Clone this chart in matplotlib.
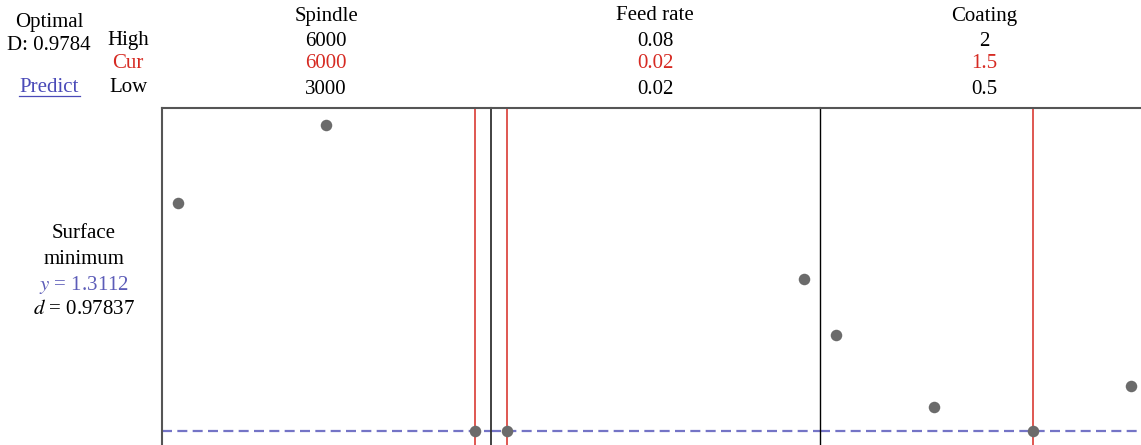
import numpy as np
import matplotlib.pyplot as plt

plt.rcParams['font.family'] = ['Liberation Serif', 'DejaVu Serif']
plt.rcParams['mathtext.fontset'] = 'stix'

# factor settings
factorNames = ["Spindle", "Feed rate", "Coating"]
highLabels = ["6000", "0.08", "2"]
curLabels = ["6000", "0.02", "1.5"]
lowLabels = ["3000", "0.02", "0.5"]
lowValues = [3000, 0.02, 0.5]
highValues = [6000, 0.08, 2.0]
curValues = [6000, 0.02, 1.5]

# predicted surface response at each level
spindleLevels = [3000, 4500, 6000]
spindleResponse = [2.2232, 2.5352, 1.3112]
feedLevels = [0.02, 0.08]
feedResponse = [1.3112, 1.9192]
coatingLevels = [0.5, 1.0, 1.5, 2.0]
coatingResponse = [1.6952, 1.4072, 1.3112, 1.4912]

optimalY = 1.3112
optimalD = "0.9784"
desirability = "0.97837"

levelsList = [spindleLevels, feedLevels, coatingLevels]
responseList = [spindleResponse, feedResponse, coatingResponse]

W, H = 1141, 445
fig = plt.figure(figsize=(W / 100, H / 100), dpi=100)

panelLefts = [162, 491, 820]
panelWidths = [329, 329, 327]
topPx = 108
yLow, yHigh = 1.2552, 2.6032

redColor = '#d62a22'
blueColor = '#5c5cb8'
dotColor = '#6b6b6b'
fs = 15

for i in range(3):
    ax = fig.add_axes([panelLefts[i] / W, 0, panelWidths[i] / W, 1 - topPx / H])
    lo, hi = lowValues[i], highValues[i]
    pad = 0.054 * (hi - lo)
    ax.set_xlim(lo - pad, hi + pad)
    ax.set_ylim(yLow, yHigh)
    ax.axhline(optimalY, color='#7474c6', linestyle=(0, (4.5, 2.4)), linewidth=1.6, zorder=1)
    ax.axvline(curValues[i], color=redColor, linewidth=1.1, zorder=2)
    ax.plot(levelsList[i], responseList[i], 'o', color=dotColor, markersize=8.3, markeredgewidth=0, zorder=3)
    ax.set_xticks([])
    ax.set_yticks([])
    ax.spines['bottom'].set_visible(False)
    ax.spines['right'].set_visible(False)
    ax.spines['top'].set_color('#555555')
    ax.spines['top'].set_linewidth(1.5)
    if i == 0:
        ax.spines['left'].set_color('#555555')
        ax.spines['left'].set_linewidth(1.5)
    elif i == 1:
        ax.spines['left'].set_color('#333333')
        ax.spines['left'].set_linewidth(1.3)
    else:
        ax.spines['left'].set_color('black')
        ax.spines['left'].set_linewidth(1.0)

    centerX = (panelLefts[i] + 164) / W
    fig.text(centerX, 1 - 16 / H, factorNames[i], ha='center', va='center', fontsize=fs)
    fig.text(centerX, 1 - 41 / H, highLabels[i], ha='center', va='center', fontsize=fs)
    fig.text(centerX, 1 - 64 / H, curLabels[i], ha='center', va='center', fontsize=fs, color=redColor)
    fig.text(centerX, 1 - 90 / H, lowLabels[i], ha='center', va='center', fontsize=fs)

# left header block
fig.text(49 / W, 1 - 22 / H, "Optimal", ha='center', va='center', fontsize=fs)
fig.text(49 / W, 1 - 46 / H, "D: " + optimalD, ha='center', va='center', fontsize=fs)
fig.text(49 / W, 1 - 87 / H, "Predict", ha='center', va='center', fontsize=fs, color='#4a4ab8')
fig.lines.append(plt.Line2D([19 / W, 80 / W], [1 - 96 / H, 1 - 96 / H], color='#4a4ab8', linewidth=0.9, transform=fig.transFigure))
fig.text(128 / W, 1 - 40 / H, "High", ha='center', va='center', fontsize=fs)
fig.text(128 / W, 1 - 64 / H, "Cur", ha='center', va='center', fontsize=fs, color=redColor)
fig.text(128 / W, 1 - 88 / H, "Low", ha='center', va='center', fontsize=fs)

fig.text(84 / W, 1 - 233 / H, "Surface", ha='center', va='center', fontsize=fs)
fig.text(84 / W, 1 - 259 / H, "minimum", ha='center', va='center', fontsize=fs)
fig.text(84 / W, 1 - 285 / H, "$y$ = " + str(optimalY), ha='center', va='center', fontsize=fs, color=blueColor)
fig.text(84 / W, 1 - 310 / H, "$d$ = " + desirability, ha='center', va='center', fontsize=fs)

fig.savefig("out.png", dpi=100)
